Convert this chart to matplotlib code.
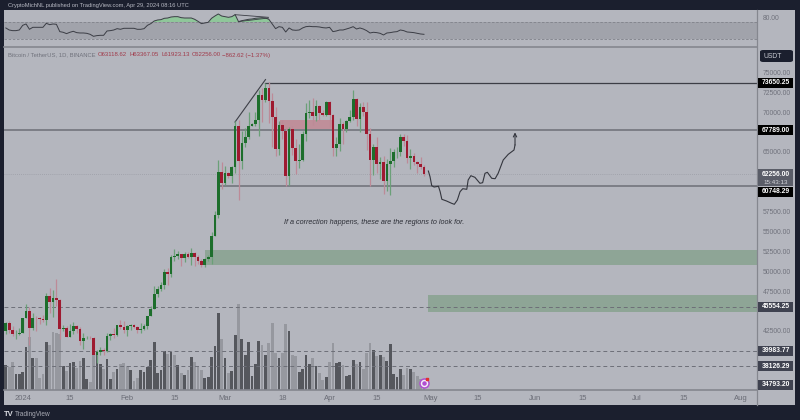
import matplotlib
matplotlib.use('Agg')
import matplotlib.pyplot as plt
from matplotlib.patches import Rectangle, FancyBboxPatch

plt.rcParams['font.family'] = ['Liberation Sans', 'DejaVu Sans']

# days counted from 1 Jan 2024, first candle is 27 Dec
first_day = -5
opens = [42520, 43440, 42600, 42070, 42140, 42280, 44180, 44950, 42850, 44180, 44160, 43970, 43930, 46950, 46110, 46630, 46340, 42780, 42840, 41730, 42510,
         43140, 42770, 41260, 41620, 41660, 41580, 39530, 39840, 40080, 39930, 41810, 42120, 42030, 43300, 42940, 42580, 43080, 43190, 42990, 42580, 42700,
         43090, 44340, 45290, 47130, 47750, 48290, 49950, 49700, 51810, 51930, 52130, 51640, 52120, 51780, 52260, 51850, 51300, 50740, 51570, 51730, 54480,
         57040, 62500, 61130, 62390, 61990, 63130, 68240, 63800, 66100, 66930, 68300, 68500, 69000, 72100, 71470, 73070, 71390, 69400, 65300, 68390, 67610,
         61930, 67840, 65500, 63800, 64040, 67210, 69880, 69990, 69450, 70780, 69850, 69640, 71330, 69650, 65460, 65970, 68500, 67840, 68900, 69360, 71620,
         69140, 70590, 70060, 67190, 63920, 65660, 63420, 63790, 61280, 63470, 63820, 64940, 64940, 66840, 66400, 64280, 64480, 63750, 63420, 63118.62]
highs = [43680, 43800, 43100, 42600, 42900, 44180, 45880, 45500, 44730, 44320, 44220, 44500, 47250, 47900, 47700, 48970, 46500, 43250, 43080, 43400, 43570,
         43200, 42930, 42200, 41850, 41880, 41680, 40130, 40500, 40350, 42200, 42200, 42840, 43300, 43880, 43750, 43300, 43420, 43380, 43120, 43500, 43400,
         44370, 45600, 48200, 48170, 48590, 50330, 50350, 52040, 52820, 52570, 52190, 52380, 52480, 52980, 52370, 52000, 51550, 51700, 52000, 54950, 57580,
         64000, 63680, 63200, 62430, 63230, 68850, 69000, 67600, 67950, 70000, 68650, 70000, 72800, 73000, 73650, 73780, 72400, 70600, 68900, 68950, 68120,
         68100, 68250, 66650, 65980, 67630, 71150, 71560, 71770, 71550, 70900, 70320, 71370, 71340, 69700, 66900, 69290, 68750, 69000, 70300, 72800, 71750,
         71170, 71250, 71230, 68000, 66000, 66870, 64350, 64500, 64100, 65480, 65350, 65650, 67200, 67200, 67100, 65300, 64800, 63900, 64350, 63367.05]
lows = [42100, 42300, 41800, 41520, 41960, 42180, 44150, 40750, 42630, 42450, 43400, 43620, 43200, 44750, 44300, 45600, 41500, 42440, 41720, 41720, 42050,
        42200, 40680, 40280, 41450, 41500, 39430, 38500, 39450, 39500, 39800, 41400, 41600, 41800, 42680, 42270, 41880, 42580, 42880, 42260, 42260, 42570,
        42790, 44330, 45240, 46800, 47550, 47710, 48300, 49250, 51300, 51600, 50630, 51170, 51720, 50800, 50620, 50900, 50500, 50550, 51280, 50900, 54450,
        56700, 60370, 60800, 61700, 61100, 62400, 59000, 62850, 65600, 66600, 68200, 68250, 67000, 68700, 71330, 68600, 65600, 64500, 64550, 66600, 60750,
        60780, 64600, 62260, 63000, 63800, 66400, 69280, 68400, 68900, 69000, 69550, 69560, 68100, 64500, 64500, 65050, 66000, 67480, 68800, 69040, 68210,
        67500, 69560, 65250, 60660, 62100, 62300, 61600, 59750, 60100, 59600, 63100, 64200, 64500, 65800, 63600, 62800, 63300, 62400, 62800, 61923.13]
closes = [43440, 42600, 42070, 42140, 42280, 44180, 44950, 42850, 44180, 44160, 43970, 43930, 46950, 46110, 46630, 46340, 42780, 42840, 41730, 42510, 43140,
          42770, 41260, 41620, 41660, 41580, 39530, 39840, 40080, 39930, 41810, 42120, 42030, 43300, 42940, 42580, 43080, 43190, 42990, 42580, 42700, 43090,
          44340, 45290, 47130, 47750, 48290, 49950, 49700, 51810, 51930, 52130, 51640, 52120, 51780, 52260, 51850, 51300, 50740, 51570, 51730, 54480, 57040,
          62500, 61130, 62390, 61990, 63130, 68240, 63800, 66100, 66930, 68300, 68500, 69000, 72100, 71470, 73070, 71390, 69400, 65300, 68390, 67610, 61930,
          67840, 65500, 63800, 64040, 67210, 69880, 69990, 69450, 70780, 69850, 69640, 71330, 69650, 65460, 65970, 68500, 67840, 68900, 69360, 71620, 69140,
          70590, 70060, 67190, 63920, 65660, 63420, 63790, 61280, 63470, 63820, 64940, 64940, 66840, 66400, 64280, 64480, 63750, 63420, 63110, 62256]

volumes = [75, 70, 84, 47, 47, 53, 128, 160, 95, 95, 35, 48, 143, 136, 175, 170, 168, 73, 56, 80,
           85, 65, 88, 95, 33, 25, 108, 116, 78, 63, 93, 33, 53, 63, 77, 80, 72, 60, 27, 35,
           59, 53, 68, 90, 143, 50, 60, 116, 108, 113, 105, 75, 52, 45, 60, 98, 85, 72, 60, 35,
           39, 100, 132, 230, 153, 95, 52, 57, 166, 257, 153, 105, 145, 42, 78, 147, 135, 104, 141, 202,
           110, 97, 110, 198, 177, 105, 102, 53, 63, 105, 78, 95, 72, 52, 30, 39, 83, 140, 80, 83,
           75, 42, 45, 90, 78, 83, 63, 110, 140, 121, 103, 105, 98, 87, 137, 47, 39, 63, 45, 66,
           63, 54, 42, 32, 25]
# d = dark bar, l = light bar
volume_shade = ('dllddddldl' 'lldlllldld' 'dllddlldd' 'l' 'ddldllldll' 'ddddddddld' 'ldldldllld' 'ddddldlddl'
                'ddddddldll' 'ldlldllddd' 'dldlldlldd' 'ldddldllld' 'ldlddddd' 'll' 'dllll')

rsi = [56.2, 51.5, 50, 50, 51.5, 62.3, 65.4, 53.1, 57.7, 57.7, 57.7, 57.7, 66.9, 63.8, 65.4, 64.6, 47.7, 46.2, 43.1, 46.2,
       48.5, 45.4, 44.6, 44.6, 43.8, 41.5, 36.9, 38.5, 39.2, 39.2, 49.2, 50, 51.5, 54.6, 53.1, 55.4, 55.4, 55.4, 55.4, 53.1,
       53.1, 54.6, 62.3, 66.2, 72.3, 74.6, 75.4, 78.5, 79.2, 81.5, 82.3, 82.3, 80, 79.2, 79.2, 79.2, 76.2, 71.5, 66.2, 67.7,
       69.2, 78.5, 83.8, 88.5, 83.8, 82.3, 80.8, 82.3, 86.9, 70.8, 73.1, 74.6, 76.2, 76.9, 78.5, 79.2, 80, 79.2, 76.2, 65.4,
       54.6, 59.2, 57.7, 46.9, 56.2, 51.5, 50.8, 51.5, 56.2, 59.2, 60, 59.2, 59.2, 58.5, 56.9, 56.2, 57.7, 47.7, 49.2, 51.5,
       51.5, 53.8, 56.2, 59.2, 53.8, 56.2, 53.8, 50, 44.6, 46.2, 45.4, 43.8, 40, 44.6, 45.4, 46.9, 47.7,
       51.5, 50, 46.9, 46.2, 45.4, 43.8, 42.3, 41.5]

# hand drawn forecast path
path_days = [120.3, 120.8, 121.3, 122, 123.3, 123.8, 124.3, 125.7, 127.2, 128, 128.9, 129.7, 130.5, 131.7, 132.1,
             132.9, 134.1, 135.6, 136.4, 137.1, 137.8, 139.1, 140.1, 141, 142.5, 144, 145.7, 146]
path_prices = [62596, 61880, 60749, 60586, 60674, 59995, 59040, 58826, 58537, 58412, 58952, 59995, 60372, 60297, 61465,
               62006, 61805, 61051, 61126, 62307, 62433, 61679, 61629, 62307, 63979, 64695, 65235, 65864]

level_top = 73650.25
level_mid = 67789.00
level_low = 60748.29
last_price = 62256.00
dashed_levels = [45554.25, 39983.77, 38126.29]
bottom_tag = 34793.20

# the others sit behind the price tags
price_ticks = [75000, 72500, 70000, 65000, 57500, 55000, 52500, 50000, 47500, 42500]
time_ticks = [0, 14, 31, 45, 60, 77, 91, 105, 121, 135, 152, 166, 182, 196, 213]
time_labels = ['2024', '15', 'Feb', '15', 'Mar', '18', 'Apr', '15', 'May', '15', 'Jun', '15', 'Jul', '15', 'Aug']

W, H = 800, 420
BG = '#1b1f2e'
PANEL = '#b4b6be'
GRID = '#85878f'
SCALE_TEXT = '#70727c'
GREEN = '#1d6e2c'
RED = '#9e1a30'
ZONE = '#8ea596'


def rect(x0, y0, x1, y1):
    return [x0 / W, 1 - y1 / H, (x1 - x0) / W, (y1 - y0) / H]


def fx(x):
    return x / W


def fy(y):
    return 1 - y / H


fig = plt.figure(figsize=(8, 4.2), dpi=100, facecolor=BG)
fig.patches.append(Rectangle((fx(4), fy(405)), fx(791), 395 / H, transform=fig.transFigure,
                             facecolor=PANEL, edgecolor='none', zorder=-5))

xlim = ((4 - 22.7) / 3.372, (757 - 22.7) / 3.372)
ylim = (35075, 78180)
days = list(range(first_day, first_day + len(closes)))

# volume underneath
ax_vol = fig.add_axes(rect(4, 47, 757, 390))
ax_vol.set_facecolor('none')
ax_vol.bar(days, volumes, width=0.82, color=['#55575d' if s == 'd' else '#96989f' for s in volume_shade])
ax_vol.set_xlim(xlim)
ax_vol.set_ylim(0, 1029)
ax_vol.axis('off')

ax = fig.add_axes(rect(4, 47, 757, 390))
ax.set_facecolor('none')
ax.axhspan(50750, 52660, xmin=(54 - xlim[0]) / (xlim[1] - xlim[0]), color=ZONE, lw=0, zorder=1)
ax.axhspan(44910, 47000, xmin=(120.2 - xlim[0]) / (xlim[1] - xlim[0]), color=ZONE, lw=0, zorder=1)
ax.add_patch(Rectangle((76.3, 67750), 15.4, 1250, facecolor='#bf8f9a', edgecolor='none', zorder=1))

for lvl in dashed_levels:
    ax.axhline(lvl, color='#6d6f78', lw=0.7, ls=(0, (4, 3)), zorder=2)
ax.axhline(last_price, color='#9b9da6', lw=0.6, ls=(0, (1, 1.5)), zorder=2)
ax.axhline(level_mid, color='#7c7e86', lw=1.4, zorder=2)
ax.plot([58.6, xlim[1]], [level_low, level_low], color='#7c7e86', lw=1.4, zorder=2)
ax.plot([72, xlim[1]], [level_top, level_top], color='#3c3e46', lw=0.9, zorder=2)
ax.plot([62.96, 72], [68750, 74087], color='#3c3e46', lw=0.8, zorder=2)

for d, o, h, l, c in zip(days, opens, highs, lows, closes):
    up = c >= o
    ax.vlines(d, l, h, color='#6ba078' if up else '#bd8a97', lw=0.9, zorder=3)
    ax.bar(d, abs(c - o), bottom=min(o, c), width=0.8, color=GREEN if up else RED, zorder=4)

ax.plot(path_days, path_prices, color='#34363e', lw=0.8, zorder=5)
ax.annotate('', xy=(146, 67450), xytext=(146, 65864),
            arrowprops=dict(arrowstyle='->', color='#34363e', lw=0.8, mutation_scale=6, shrinkA=0, shrinkB=0), zorder=5)

fig.text(fx(284), fy(223), 'If a correction happens, these are the regions to look for.',
         fontsize=5.25, style='italic', color='#2c2e36', va='center')

ax.set_xlim(xlim)
ax.set_ylim(ylim)
ax.set_xticks(time_ticks)
ax.set_xticklabels(time_labels, fontsize=5.5, color='#6a6c76')
ax.set_yticks(price_ticks)
ax.set_yticklabels([f'{p:.2f}' for p in price_ticks], fontsize=4.9, color=SCALE_TEXT)
ax.yaxis.tick_right()
ax.tick_params(axis='both', length=0)
ax.tick_params(axis='x', pad=3.5)
ax.tick_params(axis='y', pad=4)
for s in ['top', 'left', 'right']:
    ax.spines[s].set_visible(False)
ax.spines['bottom'].set_color(GRID)
ax.spines['bottom'].set_linewidth(1.2)

# rsi pane
ax_rsi = fig.add_axes(rect(4, 10, 757, 47))
ax_rsi.set_facecolor('none')
ax_rsi.axhspan(30, 70, color='#a1a3ab', lw=0)
ax_rsi.axhline(70, color='#80828a', lw=0.6, ls=(0, (3, 2)))
ax_rsi.axhline(30, color='#80828a', lw=0.6, ls=(0, (3, 2)))
ax_rsi.fill_between(days, rsi, 70, where=[r > 70 for r in rsi], interpolate=True, color='#8fc79a', lw=0)
ax_rsi.plot(days, rsi, color='#3b3d45', lw=0.7)
ax_rsi.plot([62.96, 72.85], [86.9, 80.8], color='#3b3d45', lw=0.6)
ax_rsi.plot([63.95, 72.85], [70.8, 79.2], color='#3b3d45', lw=0.6)
ax_rsi.set_xlim(xlim)
ax_rsi.set_ylim(12.2, 97.7)
ax_rsi.set_xticks([])
ax_rsi.yaxis.tick_right()
ax_rsi.set_yticks([80])
ax_rsi.set_yticklabels(['80.00'], fontsize=4.9, color=SCALE_TEXT)
ax_rsi.tick_params(axis='y', length=0, pad=4)
for s in ['top', 'left', 'right']:
    ax_rsi.spines[s].set_visible(False)
ax_rsi.spines['bottom'].set_color(GRID)
ax_rsi.spines['bottom'].set_linewidth(1.2)

# price scale divider
fig.add_artist(plt.Line2D([fx(757.3)] * 2, [fy(10), fy(405)], color=GRID, lw=0.9))

# alert icon over the last volume bar
ax_vol.scatter([119], [21], s=42, facecolor='#f4eef8', edgecolor='#b04fd0', linewidth=1.1, zorder=6, clip_on=False)
ax_vol.scatter([119], [21], s=5, color='#b04fd0', zorder=7, clip_on=False)
ax_vol.scatter([120], [33], s=4, marker='s', color='#e03030', zorder=8, clip_on=False)
ax_vol.set_zorder(0)
ax.set_zorder(1)
ax_rsi.set_zorder(1)


def tag(y, value, face):
    fig.patches.append(Rectangle((fx(758), fy(y + 5)), 35 / W, 10 / H, transform=fig.transFigure,
                                 facecolor=face, edgecolor='none', zorder=9))
    fig.text(fx(775.5), fy(y), f'{value:.2f}', fontsize=4.9, color='white', fontweight='bold', ha='center', va='center', zorder=10)


tag(83, level_top, '#000000')
tag(130, level_mid, '#000000')
tag(192, level_low, '#000000')
tag(307, dashed_levels[0], '#3f4250')
tag(351, dashed_levels[1], '#3f4250')
tag(366, dashed_levels[2], '#3f4250')
tag(385, bottom_tag, '#3f4250')
# last price tag is taller, has the countdown under it
fig.patches.append(Rectangle((fx(758), fy(186)), 35 / W, 17 / H, transform=fig.transFigure, facecolor='#5a5d68', edgecolor='none', zorder=9))
fig.text(fx(775.5), fy(174.5), f'{last_price:.2f}', fontsize=4.9, color='white', fontweight='bold', ha='center', va='center', zorder=10)
fig.text(fx(775.5), fy(182), '15:43:13', fontsize=4.5, color='#d5d6dc', ha='center', va='center', zorder=10)

fig.patches.append(FancyBboxPatch((fx(760), fy(62)), 33 / W, 12 / H, boxstyle='round,pad=0,rounding_size=0.004',
                                  transform=fig.transFigure, facecolor='#1b1f2e', edgecolor='none', zorder=9))
fig.text(fx(764), fy(56.5), 'USDT', fontsize=4.9, color='#c8cad2', va='center', zorder=10)

# header and legend texts
fig.text(fx(8), fy(5), 'CryptoMichNL published on TradingView.com, Apr 29, 2024 08:16 UTC', fontsize=4.15, color='#b8bac4', va='center')
fig.text(fx(8), fy(55), 'Bitcoin / TetherUS, 1D, BINANCE', fontsize=4.2, color='#70727c', va='center')
fig.text(fx(98), fy(55), 'O63118.62', fontsize=4.3, color='#a03a4a', va='center')
fig.text(fx(129), fy(55), 'H63367.05', fontsize=4.3, color='#a03a4a', va='center')
fig.text(fx(161), fy(55), 'L61923.13', fontsize=4.3, color='#a03a4a', va='center')
fig.text(fx(192), fy(55), 'C62256.00', fontsize=4.3, color='#a03a4a', va='center')
fig.text(fx(222), fy(55), '\u2212862.62 (\u22121.37%)', fontsize=4.3, color='#a03a4a', va='center')

fig.text(fx(4), fy(414), 'TV', fontsize=5.5, fontweight='bold', color='#d8dae0', va='center')
fig.text(fx(15), fy(414), 'TradingView', fontsize=4.7, color='#a8aab4', va='center')

fig.savefig('out.png', dpi=100, facecolor=BG)
